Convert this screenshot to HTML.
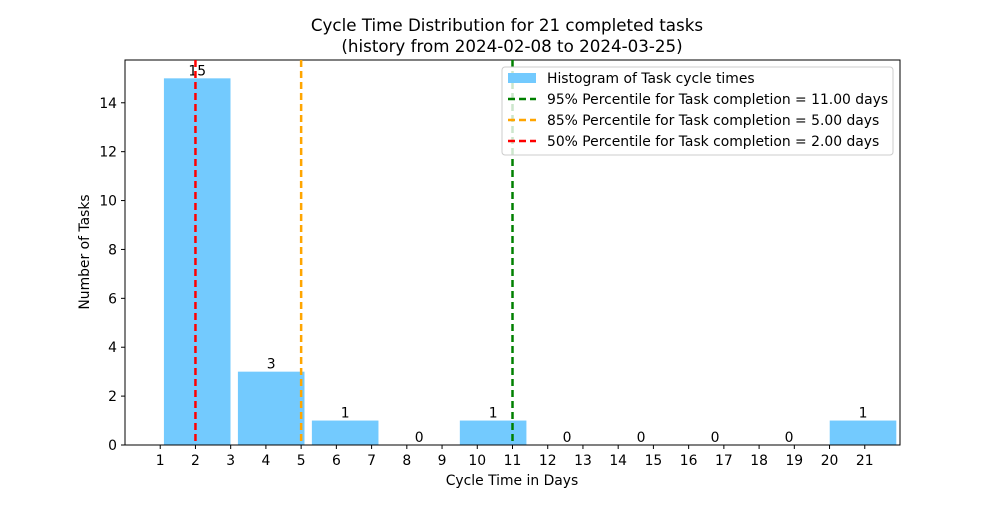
<!DOCTYPE html>
<html><head><meta charset="utf-8"><style>
body{margin:0;background:#fff;font-family:"Liberation Sans","DejaVu Sans",sans-serif}
svg text{font-family:"DejaVu Sans","Liberation Sans",sans-serif}
</style></head><body>
<svg id="c" width="1000" height="500" xmlns="http://www.w3.org/2000/svg"></svg>
<script>
const binStarts=[1,3.1,5.2,7.3,9.4,11.5,13.6,15.7,17.8,19.9];
const counts=[15,3,1,0,1,0,0,0,0,1];
const binWidth=2.1;
const xTicks=[1,2,3,4,5,6,7,8,9,10,11,12,13,14,15,16,17,18,19,20,21];
const yTicks=[0,2,4,6,8,10,12,14];
const pctNames=["95%","85%","50%"];
const pctValues=[11,5,2];
const pctColors=["green","orange","red"];
const svg=document.getElementById('c');
const NS='http://www.w3.org/2000/svg';
const L=125,R=900,T=60,B=445;
const FS=13.9;
const xMax=22,yMax=Math.max(...counts)*1.05;
const X=v=>L+v/xMax*(R-L);
const Y=v=>B-v/yMax*(B-T);
function mk(t,a,txt){const e=document.createElementNS(NS,t);for(const k in a)e.setAttribute(k,a[k]);if(txt!==undefined)e.textContent=txt;svg.appendChild(e);return e;}
counts.forEach((c,i)=>{
 const x0=X(binStarts[i]+binWidth*0.05),x1=X(binStarts[i]+binWidth*0.95);
 const r=mk('rect',{x:x0,y:Y(c),width:x1-x0,height:B-Y(c),fill:'#73cafe'});
 
 
 const t=mk('text',{x:(x0+x1)/2,y:Y(c)-3,'text-anchor':'middle','font-size':FS},String(c));
 
 
});
const axes=mk('rect',{x:L,y:T,width:R-L,height:B-T,fill:'none',stroke:'#000','stroke-width':1});


xTicks.forEach(v=>{
 mk('line',{x1:X(v),x2:X(v),y1:B,y2:B+4,stroke:'#000'});
 const t=mk('text',{x:X(v),y:B+20,'text-anchor':'middle','font-size':FS},String(v));
 
 
});
yTicks.forEach(v=>{
 mk('line',{x1:L-4,x2:L,y1:Y(v),y2:Y(v),stroke:'#000'});
 const t=mk('text',{x:L-8,y:Y(v)+5,'text-anchor':'end','font-size':FS},String(v));
 
 
});
pctValues.forEach((v,i)=>{
 const l=mk('line',{x1:X(v),x2:X(v),y1:T,y2:B,stroke:pctColors[i],'stroke-width':2.5,'stroke-dasharray':'7,4'});
 
 
});
const lg=mk('rect',{x:502,y:67,width:391,height:88,fill:'#fff','fill-opacity':0.8,stroke:'#ccc',rx:3});


mk('rect',{x:508,y:73,width:28,height:10,fill:'#73cafe'});
const l0=mk('text',{x:547,y:83,'font-size':FS},'Histogram of Task cycle times');


pctValues.forEach((v,i)=>{
 const y=99+i*21;
 mk('line',{x1:508,x2:536,y1:y,y2:y,stroke:pctColors[i],'stroke-width':2.5,'stroke-dasharray':'7,4'});
 const t=mk('text',{x:547,y:y+5,'font-size':FS},pctNames[i]+' Percentile for Task completion = '+v.toFixed(2)+' days');
 
 
});
const t1=mk('text',{x:507,y:31,'text-anchor':'middle','font-size':16.7},'Cycle Time Distribution for 21 completed tasks');


const t2=mk('text',{x:512,y:52,'text-anchor':'middle','font-size':16.7},'(history from 2024-02-08 to 2024-03-25)');


const xl=mk('text',{x:512,y:485,'text-anchor':'middle','font-size':FS},'Cycle Time in Days');


const yl=mk('text',{x:89,y:252,'text-anchor':'middle','font-size':FS,transform:'rotate(-90 89 252)'},'Number of Tasks');


</script>
</body></html>
